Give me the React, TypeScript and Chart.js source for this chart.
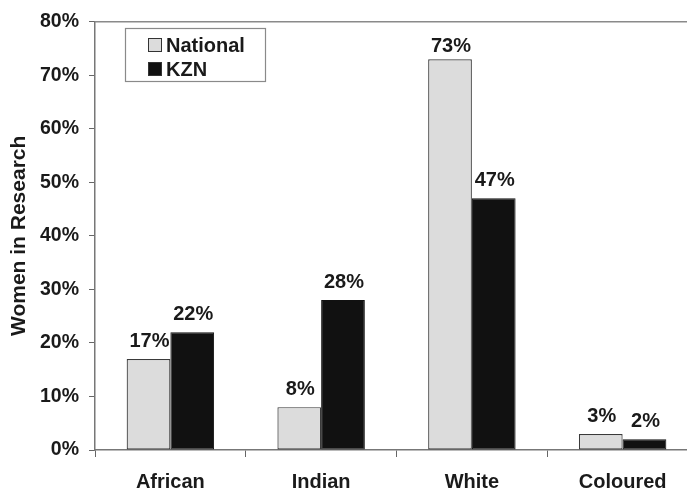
import React, { useEffect, useRef } from "react";
import { Chart, registerables } from "chart.js";

Chart.register(...registerables);

const categories = ["African", "Indian", "White", "Coloured"];
const nationalValues = [17, 8, 73, 3];
const kznValues = [22, 28, 47, 2];
const seriesNames = ["National", "KZN"];
const yTickMax = 80;
const yTickStep = 10;
const yTitle = "Women in Research";

const FONT = "'Liberation Sans', Arial, sans-serif";

const valueLabelPlugin = {
  id: "valueLabels",
  afterDatasetsDraw(chart: any) {
    const ctx = chart.ctx;
    const top = chart.chartArea.top;
    ctx.save();
    ctx.font = `bold 20px ${FONT}`;
    ctx.fillStyle = "#1a1a1a";
    ctx.textAlign = "center";
    ctx.textBaseline = "alphabetic";
    chart.data.datasets.forEach((ds: any, di: number) => {
      const meta = chart.getDatasetMeta(di);
      meta.data.forEach((bar: any, i: number) => {
        const y = Math.max(bar.y - 12, top + 30);
        ctx.fillText(`${ds.data[i]}%`, bar.x + 1, y);
      });
    });
    ctx.restore();
  },
};

const framePlugin = {
  id: "frameAndLegend",
  afterDraw(chart: any) {
    const ctx = chart.ctx;
    const { left, top, right } = chart.chartArea;
    ctx.save();
    ctx.strokeStyle = "#8a8a8a";
    ctx.lineWidth = 1.5;
    ctx.beginPath();
    ctx.moveTo(left, top);
    ctx.lineTo(right, top);
    ctx.stroke();
    const bx = 125, by = 28, bw = 140, bh = 53;
    ctx.fillStyle = "#ffffff";
    ctx.fillRect(bx, by, bw, bh);
    ctx.strokeStyle = "#8a8a8a";
    ctx.lineWidth = 1.2;
    ctx.strokeRect(bx + 0.5, by + 0.5, bw, bh);
    ctx.font = `bold 20px ${FONT}`;
    ctx.textAlign = "left";
    ctx.textBaseline = "middle";
    chart.data.datasets.forEach((ds: any, di: number) => {
      const cy = 45 + di * 24;
      ctx.fillStyle = ds.backgroundColor;
      ctx.fillRect(148, cy - 7, 13, 13);
      ctx.strokeStyle = "#333";
      ctx.lineWidth = 1;
      ctx.strokeRect(148.5, cy - 6.5, 13, 13);
      ctx.fillStyle = "#1a1a1a";
      ctx.fillText(ds.label, 166, cy + 1);
    });
    ctx.restore();
  },
};

export default function App() {
  const ref = useRef<HTMLCanvasElement>(null);
  useEffect(() => {
    document.body.style.margin = "0";
    const canvas = ref.current!;
    const chart = new Chart(canvas, {
      type: "bar",
      data: {
        labels: categories,
        datasets: [
          {
            label: seriesNames[0],
            data: nationalValues,
            backgroundColor: "#dcdcdc",
            borderColor: "#3a3a3a",
            borderWidth: 1.2,
            borderSkipped: false,
          },
          {
            label: seriesNames[1],
            data: kznValues,
            backgroundColor: "#111111",
            borderColor: "#111111",
            borderWidth: 1,
            borderSkipped: false,
          },
        ],
      },
      options: {
        responsive: false,
        animation: false,
        devicePixelRatio: 1,
        layout: { padding: { top: 20, right: 0, left: 0, bottom: 0 } },
        datasets: { bar: { categoryPercentage: 0.58, barPercentage: 1 } },
        plugins: {
          legend: { display: false },
          tooltip: { enabled: false },
          title: { display: false },
        },
        scales: {
          x: {
            grid: {
              drawOnChartArea: false,
              drawTicks: true,
              tickLength: 7,
              color: "#666",
              lineWidth: 1,
            },
            border: { display: true, color: "#777", width: 1.5 },
            ticks: {
              color: "#1a1a1a",
              font: { family: FONT, size: 20, weight: "bold" },
              padding: 13,
              maxRotation: 0,
            },
            afterFit(scale: any) {
              scale.height = 39;
            },
          },
          y: {
            min: 0,
            max: yTickMax,
            grid: {
              drawOnChartArea: false,
              drawTicks: true,
              tickLength: 6,
              color: "#666",
            },
            border: { display: true, color: "#777", width: 1.5 },
            ticks: {
              stepSize: yTickStep,
              color: "#1a1a1a",
              font: { family: FONT, size: 19.5, weight: "bold" },
              padding: 10,
              callback: (v: any) => `${v}%`,
            },
            title: {
              display: true,
              text: yTitle,
              color: "#1a1a1a",
              font: { family: FONT, size: 21, weight: "bold" },
              padding: { top: 7, bottom: 0 },
            },
            afterFit(scale: any) {
              scale.width = 95;
            },
          },
        },
      },
      plugins: [valueLabelPlugin, framePlugin],
    });
    return () => chart.destroy();
  }, []);
  return (
    <div
      style={{
        position: "absolute",
        left: 0,
        top: 0,
        width: 687,
        height: 489,
        overflow: "hidden",
        background: "#ffffff",
      }}
    >
      <canvas ref={ref} width={698} height={489} style={{ display: "block" }} />
    </div>
  );
}
